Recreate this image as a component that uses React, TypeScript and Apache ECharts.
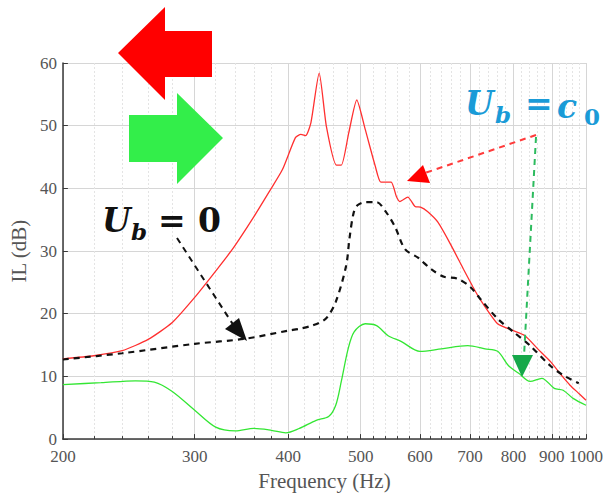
import React, { useEffect, useRef } from "react";
import * as echarts from "echarts";

// ---- data (frequency in Hz, insertion loss in dB) ----
const freqRed = [200, 220, 240, 260, 280, 300, 320, 337, 360, 377, 393, 409, 416, 422, 429, 440, 450, 464, 471, 482, 494, 507, 523, 532, 549, 558, 564, 578, 591, 601, 614, 634, 659, 686, 706, 721, 762, 800, 829, 862, 896, 930, 952, 980, 1000];
const ilRed = [12.8, 13.3, 14.1, 15.9, 18.6, 22.6, 26.8, 30.3, 35.5, 39.4, 43.0, 48.1, 48.6, 48.4, 50.5, 58.4, 49.8, 43.7, 43.7, 48.9, 54.1, 49.4, 43.5, 41.0, 41.0, 38.7, 37.9, 38.6, 37.1, 37.0, 36.3, 34.6, 31.1, 27.1, 24.3, 22.4, 18.4, 17.3, 16.5, 14.4, 12.4, 10.0, 8.6, 7.2, 6.2];

const freqBlack = [200, 240, 300, 350, 400, 414, 430, 449, 463, 478, 483, 489, 495, 507, 525, 540, 556, 573, 597, 621, 646, 673, 700, 722, 762, 800, 842, 896, 932, 978];
const ilBlack = [12.7, 13.7, 15.2, 16.0, 17.3, 17.6, 18.1, 19.2, 21.9, 27.6, 32.0, 36.0, 37.3, 37.8, 37.8, 36.3, 33.8, 30.3, 28.9, 27.1, 25.9, 25.6, 24.3, 22.4, 19.2, 17.1, 14.9, 11.7, 10.2, 8.9];

const freqGreen = [200, 225, 250, 265, 280, 300, 320, 340, 360, 380, 397, 414, 436, 453, 463, 471, 481, 490, 507, 525, 544, 566, 600, 641, 695, 733, 762, 788, 813, 842, 873, 907, 932, 961, 1000];
const ilGreen = [8.7, 9.0, 9.3, 9.1, 7.6, 4.6, 1.9, 1.3, 1.7, 1.4, 1.0, 1.7, 3.0, 3.6, 5.4, 9.2, 14.4, 17.1, 18.4, 18.1, 16.5, 15.6, 14.0, 14.4, 14.9, 14.4, 14.0, 11.7, 10.5, 9.2, 9.7, 8.1, 7.8, 6.5, 5.4];

const majorFreqTicks = [200, 300, 400, 500, 600, 700, 800, 900, 1000];
const minorFreqTicks = [220, 240, 260, 280, 320, 340, 360, 380, 420, 440, 460, 480, 520, 540, 560, 580, 620, 640, 660, 680, 720, 740, 760, 780, 820, 840, 860, 880, 920, 940, 960, 980];

const xName = "Frequency (Hz)";
const yName = "IL (dB)";

const lg = (f: number) => Math.log10(f);
const pairs = (fs: number[], vs: number[]) => fs.map((f, i) => [lg(f), vs[i]]);

const serif = "'Liberation Serif', 'DejaVu Serif', serif";
const mathFont = "'DejaVu Serif', serif";

export default function App() {
  const ref = useRef<HTMLDivElement>(null);
  useEffect(() => {
    document.body.style.margin = "0";
    const chart = echarts.init(ref.current!, null, { renderer: "svg" });
    const xMin = lg(200);
    const xMax = lg(1000);
    const mathText = (x: number, y: number, text: string, size: number, color: string, italic: boolean) => ({
      type: "text",
      x,
      y,
      z: 100,
      style: {
        text,
        fill: color,
        font: `${italic ? "italic " : ""}bold ${size}px ${mathFont}`,
        textAlign: "left",
        textVerticalAlign: "middle",
      },
    });
    chart.setOption({
      animation: false,
      grid: { left: 62, right: 17, top: 63, bottom: 55 },
      xAxis: [
        {
          type: "value",
          min: xMin,
          max: xMax,
          position: "bottom",
          axisLine: { show: true, onZero: false, lineStyle: { color: "#3a3a3a", width: 1.5 } },
          axisTick: { show: true, inside: true, length: 5, customValues: majorFreqTicks.map(lg), lineStyle: { color: "#3a3a3a", width: 1 } },
          axisLabel: {
            customValues: majorFreqTicks.map(lg),
            formatter: (v: number) => String(Math.round(Math.pow(10, v))),
            color: "#555",
            fontFamily: serif,
            fontSize: 17,
            margin: 9,
          },
          splitLine: { show: true, lineStyle: { color: "#d6d6d6", width: 1 } },
          name: xName,
          nameLocation: "middle",
          nameGap: 30,
          nameTextStyle: { color: "#555", fontFamily: serif, fontSize: 21 },
        },
        {
          type: "value",
          min: xMin,
          max: xMax,
          position: "bottom",
          axisLine: { show: false },
          axisTick: { show: true, inside: true, length: 3, customValues: minorFreqTicks.map(lg), lineStyle: { color: "#3a3a3a", width: 1 } },
          axisLabel: { show: false },
          splitLine: { show: true, lineStyle: { color: "#e4e4e4", width: 1, type: [2, 2] } },
        },
      ],
      yAxis: {
        type: "value",
        min: 0,
        max: 60,
        interval: 10,
        axisLine: { show: true, lineStyle: { color: "#3a3a3a", width: 1.5 } },
        axisTick: { show: true, inside: true, length: 5, lineStyle: { color: "#3a3a3a" } },
        axisLabel: { color: "#555", fontFamily: serif, fontSize: 17, margin: 6 },
        splitLine: { show: true, lineStyle: { color: "#d6d6d6", width: 1 } },
        name: yName,
        nameLocation: "middle",
        nameGap: 28,
        nameTextStyle: { color: "#555", fontFamily: serif, fontSize: 21 },
      },
      series: [
        {
          type: "line",
          data: pairs(freqGreen, ilGreen),
          showSymbol: false,
          smooth: 0.3,
          lineStyle: { color: "#33e633", width: 1.3 },
          z: 2,
        },
        {
          type: "line",
          data: pairs(freqRed, ilRed),
          showSymbol: false,
          smooth: 0.2,
          lineStyle: { color: "#ff3030", width: 1.3 },
          z: 3,
        },
        {
          type: "line",
          data: pairs(freqBlack, ilBlack),
          showSymbol: false,
          smooth: 0.3,
          lineStyle: { color: "#111", width: 2.2, type: [6, 5] },
          z: 4,
        },
      ],
      graphic: [
        // big red arrow (left)
        {
          type: "polygon",
          z: 50,
          shape: { points: [[118, 53], [165, 7], [165, 31], [212, 31], [212, 77], [165, 77], [165, 100]] },
          style: { fill: "#ff0000" },
        },
        // big green arrow (right)
        {
          type: "polygon",
          z: 50,
          shape: { points: [[129, 115], [177, 115], [177, 93], [223, 138], [177, 184], [177, 162], [129, 162]] },
          style: { fill: "#33ee4a" },
        },
        // black dashed pointer
        {
          type: "line",
          z: 60,
          shape: { x1: 177, y1: 238, x2: 234, y2: 326 },
          style: { stroke: "#111", lineWidth: 2, lineDash: [6, 5] },
        },
        {
          type: "polygon",
          z: 60,
          shape: { points: [[247, 341], [225, 329], [239, 318]] },
          style: { fill: "#111" },
        },
        // red dashed pointer
        {
          type: "line",
          z: 60,
          shape: { x1: 536, y1: 135, x2: 425, y2: 173 },
          style: { stroke: "#ff3b3b", lineWidth: 2, lineDash: [6, 5] },
        },
        {
          type: "polygon",
          z: 60,
          shape: { points: [[407, 181], [423, 165], [430, 183]] },
          style: { fill: "#ff0000" },
        },
        // green dashed pointer
        {
          type: "line",
          z: 60,
          shape: { x1: 536, y1: 137, x2: 524, y2: 356 },
          style: { stroke: "#2dbb5e", lineWidth: 2, lineDash: [6, 5] },
        },
        {
          type: "polygon",
          z: 60,
          shape: { points: [[522, 377], [512, 355], [533, 355]] },
          style: { fill: "#16a84a" },
        },
        // U_b = 0
        mathText(102, 220, "U", 33, "#111", true),
        mathText(131, 231, "b", 23, "#111", true),
        mathText(158, 220, "=", 33, "#111", false),
        mathText(198, 220, "0", 33, "#111", false),
        // U_b = c_0
        mathText(465, 103, "U", 33, "#1a9bd7", true),
        mathText(495, 114, "b", 23, "#1a9bd7", true),
        mathText(525, 103, "=", 33, "#1a9bd7", false),
        mathText(557, 106, "c", 33, "#1a9bd7", true),
        mathText(584, 116, "0", 23, "#1a9bd7", false),
      ],
    });
    return () => chart.dispose();
  }, []);
  return <div ref={ref} style={{ width: 606, height: 496 }} />;
}
